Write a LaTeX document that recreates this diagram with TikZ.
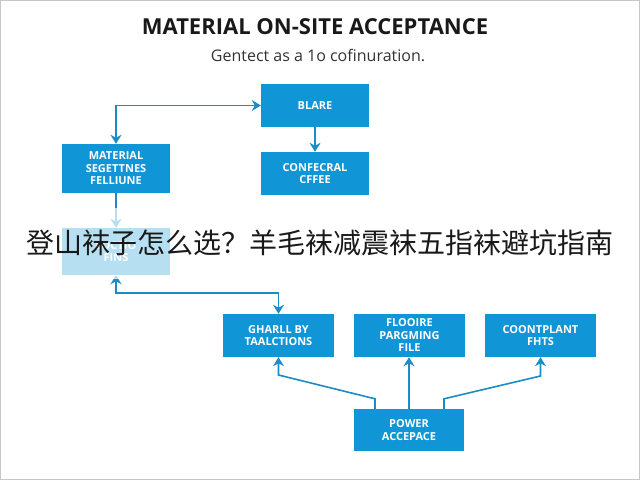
\documentclass[tikz,border=0pt]{standalone}
\usepackage{fontspec}
\setmainfont{Open Sans}
\newfontfamily\cjk{Noto Sans CJK SC}
\usepackage{xcolor}
\usetikzlibrary{arrows.meta,positioning,calc}
\definecolor{boxblue}{RGB}{16,150,214}
\definecolor{lineblue}{RGB}{28,140,200}
\tikzset{
  box/.style={fill=boxblue, text=white, align=center, font=\bfseries\fontsize{11}{12.5}\selectfont,
              inner sep=2pt, minimum width=108pt, minimum height=43pt},
  wide/.style={box, minimum width=111pt},
  flow/.style={-{Stealth[length=9pt,width=11pt]}, line width=1.6pt, draw=lineblue},
  twoway/.style={flow, {Stealth[length=9pt,width=11pt]}-{Stealth[length=9pt,width=11pt]}},
}

\begin{document}
\begin{tikzpicture}[x=1pt, y=-1pt]
  \useasboundingbox (0,0) rectangle (640,480);
  \draw[gray!45, line width=1.2pt] (0.6,0.6) rectangle (639.4,479.4);
  % title
  \node[font=\bfseries\fontsize{22}{24}\selectfont, text=black!90] (title) at (315,27)
    {MATERIAL ON-SITE ACCEPTANCE};
  \node[font=\fontsize{16}{18}\selectfont, text=black!80] (sub) at (318,55)
    {Gentect as a 1o cofinuration.};
  % upper part
  \node[box] (blare) at (315,105.5) {BLARE};
  \node[box] (conf) at (315,173.5) {CONFECRAL\\CFFEE};
  \node[box, minimum height=49pt] (mat) at (116,168.5) {MATERIAL\\SEGETTNES\\FELLIUNE};
  \node[box, minimum height=47pt] (loc) at (116,251.5) {LOCTIO\\FINS};
  \draw[twoway] (mat.north) |- (blare.west);
  \draw[flow] (blare.south) -- (conf.north);
  \draw[flow] (mat.south) -- (loc.north);
  % lower part
  \node[wide] (ghar) at (278.5,335.5) {GHARLL BY\\TAALCTIONS};
  \node[wide] (floo) at (409.5,335.5) {FLOOIRE\\PARGMING\\FILE};
  \node[wide] (coon) at (540.5,335.5) {COONTPLANT\\FHTS};
  \node[wide, minimum width=110pt, minimum height=42pt] (power) at (409,430) {POWER\\ACCEPACE};
  \draw[twoway] (loc.south) -- ++(0,18) -| (ghar.north);
  \coordinate (pl) at ([xshift=-34pt]power.north);
  \coordinate (pr) at ([xshift=35pt]power.north);
  \draw[flow] (pl) -- ++(0,-10) -- (ghar.south |- 0,375) -- (ghar.south);
  \draw[flow] (power.north) -- (power.north |- floo.south);
  \draw[flow] (pr) -- ++(0,-10) -- (coon.south |- 0,376) -- (coon.south);
  % overlay band
  \fill[white, opacity=0.7] (1.2,208) rectangle (638.8,279);
  \node[font=\cjk\fontsize{28}{30}\selectfont, text=black!90] (band) at (320,243)
    {登山袜子怎么选？羊毛袜减震袜五指袜避坑指南};
\end{tikzpicture}
\end{document}
